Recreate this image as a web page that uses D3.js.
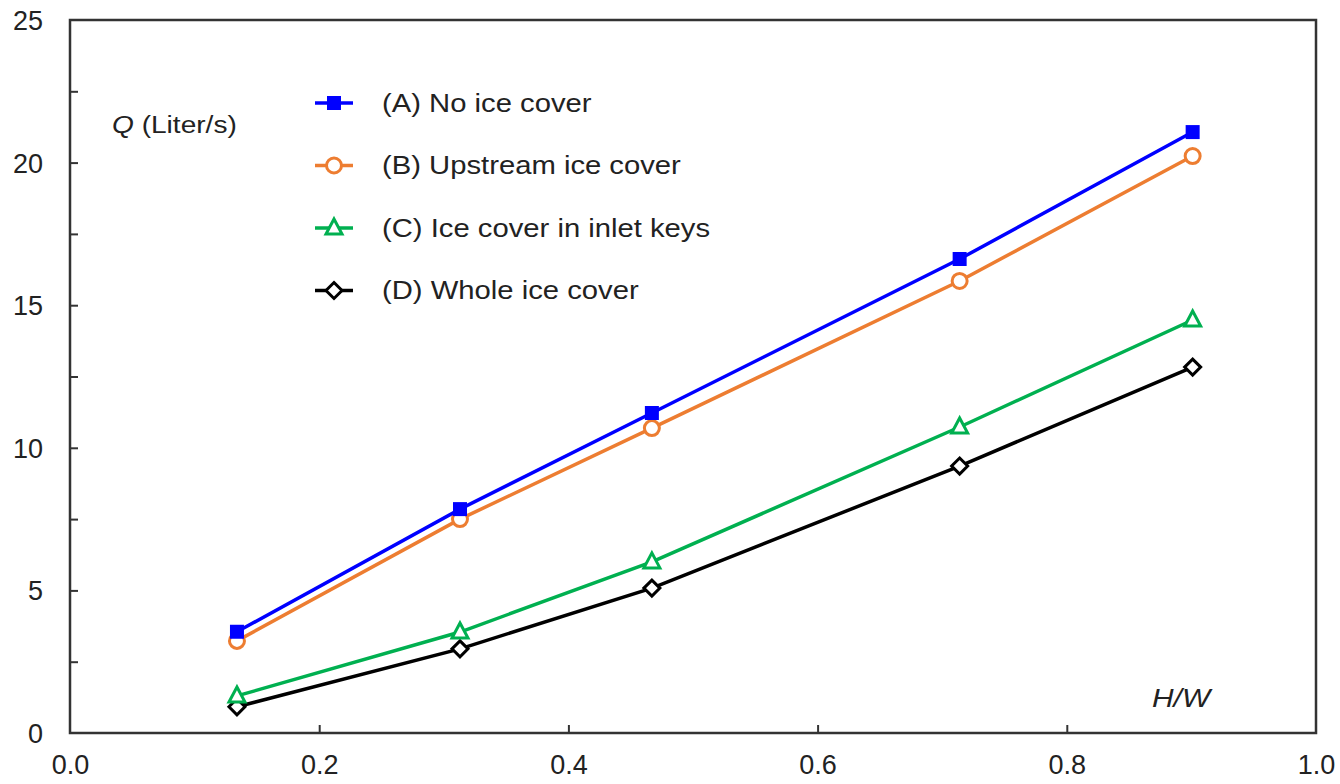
<!DOCTYPE html>
<html>
<head>
<meta charset="utf-8">
<script src="https://cdn.jsdelivr.net/npm/d3@7"></script>
<style>
  body { margin: 0; background: #fff; }
  text { font-family: "Liberation Sans", Arial, sans-serif; fill: #222; }
</style>
</head>
<body>
<div id="chart"></div>
<script>
// data
var hw = [0.134, 0.313, 0.467, 0.714, 0.901];
var seriesNames = ["(A) No ice cover", "(B) Upstream ice cover", "(C) Ice cover in inlet keys", "(D) Whole ice cover"];
var qA = [3.55, 7.85, 11.22, 16.62, 21.07];
var qB = [3.23, 7.5, 10.69, 15.85, 20.23];
var qC = [1.3, 3.54, 6.0, 10.73, 14.48];
var qD = [0.92, 2.95, 5.08, 9.36, 12.83];
var xTicks = [0, 0.2, 0.4, 0.6, 0.8, 1.0];
var yTicks = [0, 5, 10, 15, 20, 25];

var svgWidth = 1340, svgHeight = 784;
var margin = {top: 20, right: 24, bottom: 51, left: 70};
var chartWidth = svgWidth - margin.left - margin.right;
var chartHeight = svgHeight - margin.top - margin.bottom;

var svg = d3.select("#chart").append("svg")
    .attr("width", svgWidth)
    .attr("height", svgHeight);

var chartGroup = svg.append("g")
    .attr("transform", `translate(${margin.left}, ${margin.top})`);

var xScale = d3.scaleLinear().domain([0, 1]).range([0, chartWidth]);
var yScale = d3.scaleLinear().domain([0, 25]).range([chartHeight, 0]);

var axisColor = "#333";

// frame
chartGroup.append("rect")
    .attr("width", chartWidth)
    .attr("height", chartHeight)
    .attr("fill", "none")
    .attr("stroke", axisColor)
    .attr("stroke-width", 2.5);

// inward ticks
var bottomAxis = d3.axisBottom(xScale).tickValues(xTicks).tickSize(-8).tickPadding(22)
    .tickFormat(d3.format(".1f"));
var leftAxis = d3.axisLeft(yScale).tickValues(d3.range(0, 25.1, 2.5)).tickSize(-8).tickPadding(27)
    .tickFormat(d => yTicks.indexOf(d) >= 0 ? d : "");

var gx = chartGroup.append("g")
    .attr("transform", `translate(0, ${chartHeight})`)
    .call(bottomAxis);
var gy = chartGroup.append("g").call(leftAxis);

[gx, gy].forEach(function(g) {
    g.select(".domain").remove();
    g.selectAll(".tick line").attr("stroke", axisColor).attr("stroke-width", 2);
    g.selectAll(".tick text").style("font-size", "27px").attr("fill", "#222")
        .style("font-family", "Liberation Sans, Arial, sans-serif");
});
gx.selectAll(".tick").filter(d => d === 0 || d === 1).select("line").remove();
gy.selectAll(".tick").filter(d => d === 0 || d === 25).select("line").remove();
gy.selectAll(".tick text").attr("dy", "0.35em");

// series
var series = [
    {name: seriesNames[0], values: qA, color: "#0000ff", marker: "square"},
    {name: seriesNames[1], values: qB, color: "#ed7d31", marker: "circle"},
    {name: seriesNames[2], values: qC, color: "#00b050", marker: "triangle"},
    {name: seriesNames[3], values: qD, color: "#000000", marker: "diamond"}
];

function drawMarker(g, type, color) {
    if (type === "square") {
        g.append("rect").attr("x", -7).attr("y", -7).attr("width", 14).attr("height", 14)
            .attr("fill", color);
    } else if (type === "circle") {
        g.append("circle").attr("r", 7.5).attr("fill", "#fff")
            .attr("stroke", color).attr("stroke-width", 3);
    } else if (type === "triangle") {
        g.append("path").attr("d", "M0,-9L8,6L-8,6Z").attr("fill", "#fff")
            .attr("stroke", color).attr("stroke-width", 3);
    } else {
        g.append("path").attr("d", "M0,-8L8,0L0,8L-8,0Z").attr("fill", "#fff")
            .attr("stroke", color).attr("stroke-width", 3);
    }
}

var line = d3.line()
    .x((d, i) => xScale(hw[i]))
    .y(d => yScale(d));

series.slice().reverse().forEach(function(s) {
    chartGroup.append("path")
        .attr("d", line(s.values))
        .attr("fill", "none")
        .attr("stroke", s.color)
        .attr("stroke-width", 3.5);
    s.values.forEach(function(v, i) {
        var g = chartGroup.append("g")
            .attr("transform", `translate(${xScale(hw[i])}, ${yScale(v)})`);
        drawMarker(g, s.marker, s.color);
    });
});

// legend (text in the figure is a bit wider than the font, so stretch it)
var legend = svg.append("g").attr("transform", "translate(315, 103)");
series.forEach(function(s, i) {
    var row = legend.append("g").attr("transform", `translate(0, ${i * 62.5})`);
    row.append("line").attr("x1", 0).attr("x2", 38).attr("y1", 0).attr("y2", 0)
        .attr("stroke", s.color).attr("stroke-width", 3.5);
    var m = row.append("g").attr("transform", "translate(19, 0)");
    drawMarker(m, s.marker, s.color);
    row.append("text").attr("transform", "translate(67, 0) scale(1.17, 1)")
        .attr("dy", "0.35em")
        .style("font-size", "25px").text(s.name);
});

// axis titles
var qLabel = svg.append("text").attr("transform", "translate(112, 133) scale(1.17, 1)")
    .style("font-size", "24px");
qLabel.append("tspan").style("font-style", "italic").text("Q");
qLabel.append("tspan").text(" (Liter/s)");

svg.append("text").attr("transform", "translate(1152, 707) scale(1.15, 1)")
    .style("font-size", "26px").style("font-style", "italic").text("H/W");
</script>
</body>
</html>
